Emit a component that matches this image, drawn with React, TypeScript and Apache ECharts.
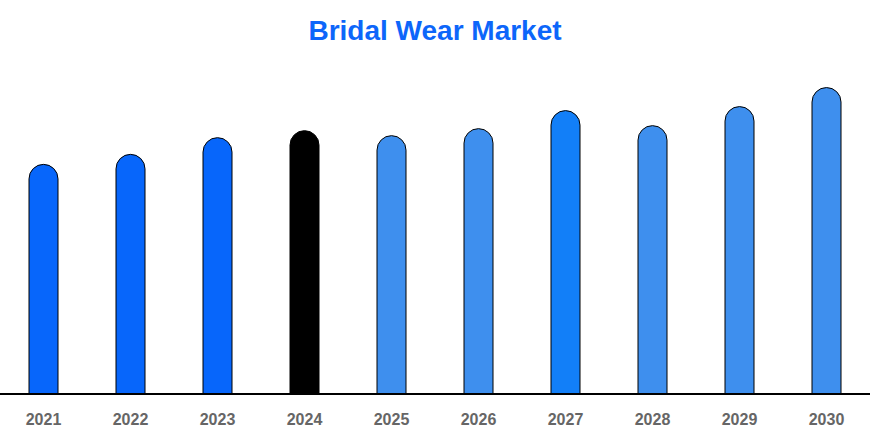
import { useEffect, useRef } from 'react';
import * as echarts from 'echarts';

const years = ['2021', '2022', '2023', '2024', '2025', '2026', '2027', '2028', '2029', '2030'];
const marketValues = [68.9, 71.9, 76.9, 79.0, 77.5, 79.6, 85.0, 80.5, 86.2, 91.9];
const barColors = [
  '#0766fb', '#0766fb', '#0766fb', '#000000', '#3e8fee',
  '#3e8fee', '#127ff8', '#3e8fee', '#3e8fee', '#3e8fee',
];

const App = () => {
  const chartRef = useRef<HTMLDivElement>(null);

  useEffect(() => {
    if (!chartRef.current) return;
    const chart = echarts.init(chartRef.current, null, { renderer: 'svg' });
    chart.setOption({
      animation: false,
      title: {
        text: 'Bridal Wear Market',
        left: 'center',
        top: 11,
        textStyle: {
          color: '#0d66fa',
          fontSize: 28,
          fontWeight: 'bold',
          fontFamily: 'Liberation Sans, Arial, sans-serif',
        },
      },
      grid: { left: 0, right: 0, top: 60, bottom: 41 },
      xAxis: {
        type: 'category',
        data: years,
        axisLine: { lineStyle: { color: '#000', width: 2 } },
        axisTick: { show: false },
        axisLabel: {
          color: '#666',
          fontSize: 16,
          fontWeight: 'bold',
          margin: 17,
          fontFamily: 'Liberation Sans, Arial, sans-serif',
        },
      },
      yAxis: {
        type: 'value',
        min: 0,
        max: 100,
        show: false,
        splitLine: { show: false },
      },
      series: [
        {
          type: 'bar',
          data: marketValues.map((v, i) => ({
            value: v,
            itemStyle: { color: barColors[i] },
          })),
          barWidth: 30,
          itemStyle: {
            borderColor: '#000',
            borderWidth: 1,
            borderRadius: [15, 15, 0, 0],
          },
        },
      ],
    });
    return () => chart.dispose();
  }, []);

  return (
    <div
      ref={chartRef}
      style={{ position: 'absolute', left: 0, top: 0, width: 870, height: 435 }}
    />
  );
};

export default App;
